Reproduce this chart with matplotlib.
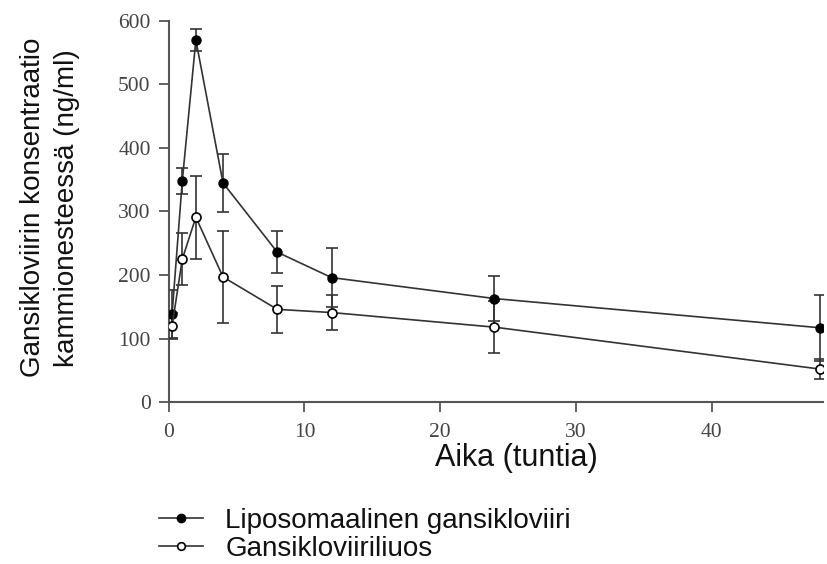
import numpy as np
import matplotlib.pyplot as plt
from matplotlib.lines import Line2D

# aika (tuntia)
hours = [0.25, 1, 2, 4, 8, 12, 24, 48]

# liposomaalinen gansikloviiri
lipo_mean = [139, 348, 570, 345, 236, 196, 163, 117]
lipo_err = [38, 20, 17, 46, 33, 46, 35, 52]

# gansikloviiriliuos
sol_mean = [120, 225, 291, 197, 146, 141, 118, 52]
sol_err = [20, 41, 65, 72, 37, 27, 41, 16]

xticks = [0, 10, 20, 30, 40]
yticks = [0, 100, 200, 300, 400, 500, 600]
names = ['Liposomaalinen gansikloviiri', 'Gansikloviiriliuos']

plt.rcParams['font.family'] = ['Liberation Sans', 'DejaVu Sans']

fig = plt.figure(figsize=(8.27, 5.64), dpi=100)
ax = fig.add_axes([0.204, 0.287, 0.791, 0.676])

line_col = '#333333'
axis_col = '#555555'

ax.errorbar(hours, lipo_mean, yerr=lipo_err, color=line_col, lw=1.2,
            marker='o', ms=6.5, mfc='black', mec='black',
            capsize=4, elinewidth=1.2, capthick=1.2, zorder=3)
ax.errorbar(hours, sol_mean, yerr=sol_err, color=line_col, lw=1.2,
            marker='o', ms=6.5, mfc='white', mec='black', mew=1.2,
            capsize=4, elinewidth=1.2, capthick=1.2, zorder=3)

ax.set_xlim(0, 48.2)
ax.set_ylim(0, 600)
ax.set_xticks(xticks)
ax.set_yticks(yticks)
ax.spines['top'].set_visible(False)
ax.spines['right'].set_visible(False)
for s in ['left', 'bottom']:
    ax.spines[s].set_color(axis_col)
    ax.spines[s].set_linewidth(1.5)
ax.tick_params(direction='out', length=7, width=1.3, color=axis_col,
               labelcolor='#444444', labelsize=15.5)
ax.tick_params(axis='x', pad=8)
ax.tick_params(axis='y', pad=6)
for lab in ax.get_xticklabels() + ax.get_yticklabels():
    lab.set_family('Liberation Serif')

ax.set_xlabel('Aika (tuntia)', fontsize=22, color='#111111')
ax.xaxis.set_label_coords(0.531, -0.108)
ax.set_ylabel('Gansikloviirin konsentraatio\nkammionesteessä (ng/ml)',
              fontsize=20, color='#111111', linespacing=1.4)
ax.yaxis.set_label_coords(-0.136, 0.51)

handles = [
    Line2D([], [], color=line_col, lw=1.2, marker='o', ms=6,
           mfc='black', mec='black'),
    Line2D([], [], color=line_col, lw=1.2, marker='o', ms=5.5,
           mfc='white', mec='black', mew=1.2),
]
fig.legend(handles, names, loc='upper left', bbox_to_anchor=(0.192, 0.1),
           frameon=False, fontsize=20, handlelength=1.6, handletextpad=0.8,
           labelspacing=0.08, borderpad=0, borderaxespad=0,
           labelcolor='#111111')

fig.savefig('out.png', dpi=100)
